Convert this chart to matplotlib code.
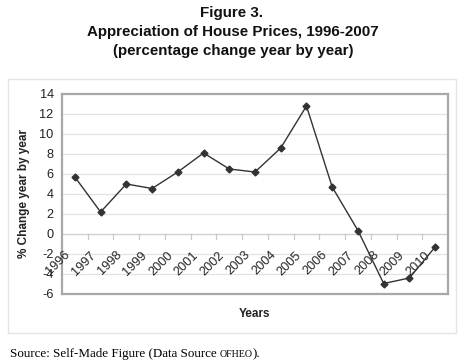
import numpy as np
import matplotlib
matplotlib.use("Agg")
import matplotlib.pyplot as plt
from matplotlib.patches import Rectangle

years = ['1996', '1997', '1998', '1999', '2000', '2001', '2002', '2003',
         '2004', '2005', '2006', '2007', '2008', '2009', '2010']
change = [5.7, 2.2, 5.0, 4.55, 6.2, 8.1, 6.5, 6.2, 8.6, 12.8, 4.7, 0.35, -4.95, -4.4, -1.3]
yticks = [-6, -4, -2, 0, 2, 4, 6, 8, 10, 12, 14]

plt.rcParams['font.family'] = ['Liberation Sans', 'DejaVu Sans']

fig = plt.figure(figsize=(4.64, 3.64), dpi=100)
fig.patch.set_facecolor('white')

# outer chart border
fig.patches.append(Rectangle((8/464, 1 - 333/364), 448/464, 254/364,
                             transform=fig.transFigure, fill=False,
                             edgecolor='#e4e4e4', linewidth=1.0))

ax = fig.add_axes([62/464, 70/364, 386/464, 200/364])
x = np.arange(len(years))

ax.set_xlim(-0.5, len(years) - 0.5)
ax.set_ylim(-6, 14)
ax.set_yticks(yticks)
ax.set_yticklabels([str(v) for v in yticks], fontsize=9.2, color='#222222')
ax.tick_params(axis='y', length=0, pad=6)
ax.set_xticks([])
for v in yticks[1:-1]:
    ax.axhline(v, color='#e2e2e2', linewidth=0.9, zorder=0)

# category axis at zero
ax.axhline(0, color='#d0d0d0', linewidth=0.9, zorder=1)
for b in x[:-1] + 0.5:
    ax.plot([b, b], [0, -0.45], color='#c8c8c8', linewidth=0.9, zorder=1)
for i, lab in enumerate(years):
    ax.text(i - 0.1, -1.5, lab, rotation=45, ha='right', va='top',
            fontsize=9.2, color='#222222')

ax.plot(x, change, color='#333333', linewidth=1.0, marker='D',
        markersize=3.5, zorder=3, clip_on=False)

for s in ax.spines.values():
    s.set_color('#a8a8a8')
    s.set_linewidth(1.6)

ax.set_ylabel('% Change year by year', fontsize=8.5, fontweight='bold',
              color='#222222', labelpad=7)

fig.text(255/464, 1 - 314/364, 'Years', ha='center', va='center',
         fontsize=8.5, fontweight='bold', color='#222222')

fig.text(232/464, 1 - 13/364, 'Figure 3.', ha='center', va='center',
         fontsize=10.9, fontweight='bold', color='#111111')
fig.text(233/464, 1 - 32/364, 'Appreciation of House Prices, 1996-2007',
         ha='center', va='center', fontsize=10.9, fontweight='bold', color='#111111')
fig.text(233/464, 1 - 51/364, '(percentage change year by year)',
         ha='center', va='center', fontsize=10.9, fontweight='bold', color='#111111')

t1 = fig.text(10/464, 1 - 357/364, 'Source: Self-Made Figure (Data Source ',
              ha='left', va='baseline', fontsize=9.4, family='Liberation Serif')
t2 = fig.text(0, 0, 'OFHEO', fontsize=7.2, family='Liberation Serif',
              va='baseline')
t3 = fig.text(0, 0, ').', fontsize=9.4, family='Liberation Serif', va='baseline')
fig.canvas.draw()
r = fig.canvas.get_renderer()
bb1 = t1.get_window_extent(r).transformed(fig.transFigure.inverted())
t2.set_position((bb1.x1, 1 - 357/364))
fig.canvas.draw()
bb2 = t2.get_window_extent(r).transformed(fig.transFigure.inverted())
t3.set_position((bb2.x1, 1 - 357/364))

fig.savefig('out.png', dpi=100, facecolor='white')
